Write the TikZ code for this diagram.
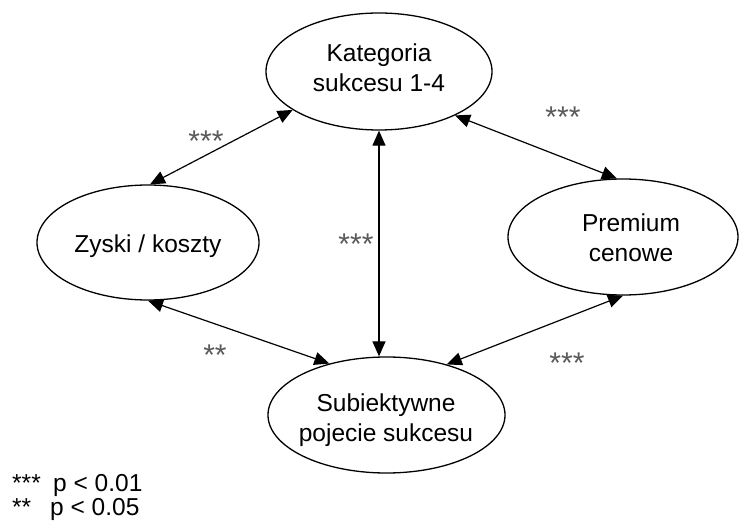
\documentclass[tikz,border=0pt]{standalone}
\usepackage{fontspec}
\setmainfont{Liberation Sans}
\usetikzlibrary{shapes.geometric,arrows.meta}
\begin{document}
\begin{tikzpicture}[x=1pt,y=-1pt,
  ell/.style={draw=black,line width=1.3pt,ellipse,inner sep=0pt},
  lbl/.style={font=\fontsize{24.5}{30}\selectfont,align=center,inner sep=0pt},
  sig/.style={font=\fontsize{30}{30}\selectfont,text=black!65,inner sep=0pt},
  leg/.style={font=\fontsize{24.5}{30}\selectfont,inner sep=0pt,anchor=base west},
  conn/.style={line width=1.2pt,{Triangle[length=15pt,width=13pt]}-{Triangle[length=15pt,width=13pt]}}]
\path[use as bounding box] (0,0) rectangle (739,521);
% ellipses
\node[ell,minimum width=226pt,minimum height=117pt] (T) at (379,71.5) {};
\node[ell,minimum width=222pt,minimum height=115pt] (L) at (148,242.5) {};
\node[ell,minimum width=230pt,minimum height=116pt] (R) at (623,237) {};
\node[ell,minimum width=237pt,minimum height=116pt] (B) at (386.5,415) {};
% texts
\node[lbl] (Tt) at (379,68) {Kategoria\\sukcesu 1-4};
\node[lbl] (Lt) at (148,246) {Zyski / koszty};
\node[lbl] (Rt) at (631,238) {Premium\\cenowe};
\node[lbl] (Bt) at (386,420) {Subiektywne\\pojecie sukcesu};
% connectors
\draw[conn] (L.88) -- (T.204);
\draw[conn] (T.-30) -- (R.96);
\draw[conn] (T.south) -- (T.south |- B.north);
\draw[conn] (L.south) -- (B.138);
\draw[conn] (R.south) -- (B.40);
% significance labels
\node[sig] (s1) at (206,141) {***};
\node[sig] (s2) at (563,117) {***};
\node[sig] (s3) at (356,244) {***};
\node[sig] (s4) at (215,355) {**};
\node[sig] (s5) at (567,363) {***};
% legend
\node[leg] (k1) at (12,491) {***};
\node[leg] (p1) at (53,491) {p < 0.01};
\node[leg] (k2) at (12,515) {**};
\node[leg] (p2) at (50,515) {p < 0.05};
\end{tikzpicture}
\end{document}
